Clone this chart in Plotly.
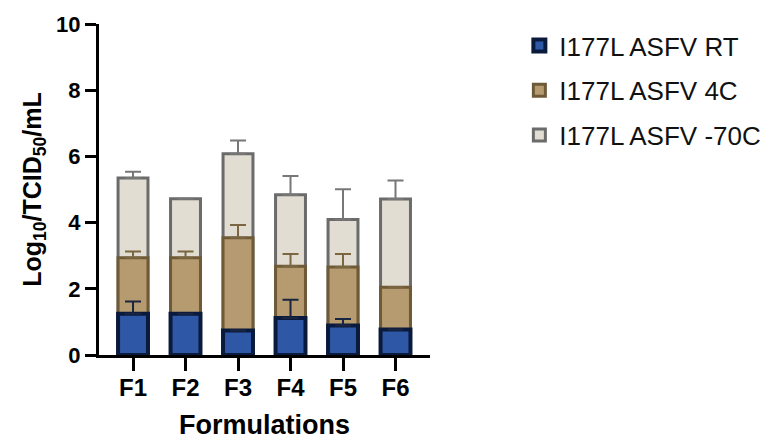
import plotly.graph_objects as go

categories = ["F1", "F2", "F3", "F4", "F5", "F6"]
rt_values = [1.25, 1.25, 0.74, 1.12, 0.89, 0.77]
rt_err = [0.37, 0.0, 0.0, 0.55, 0.20, 0.0]
c4_values = [2.94, 2.94, 3.54, 2.68, 2.66, 2.05]
c4_err = [0.19, 0.19, 0.39, 0.37, 0.39, 0.0]
m70_values = [5.35, 4.72, 6.08, 4.84, 4.09, 4.71]
m70_err = [0.19, 0.0, 0.40, 0.57, 0.92, 0.56]

series = [
    ("I177L ASFV -70C", m70_values, m70_err, "#e2ddd3", "#6b6b6b", 3, "#777777", 3),
    ("I177L ASFV 4C", c4_values, c4_err, "#b59b6f", "#6f5a38", 3, "#7a6640", 2),
    ("I177L ASFV RT", rt_values, rt_err, "#2e58a6", "#0a1a3c", 4, "#1a2540", 1),
]

fig = go.Figure()
for name, vals, err, fill, line, lw, ecol, rank in series:
    fig.add_trace(go.Bar(
        x=categories, y=vals, name=name,
        marker=dict(color=fill, line=dict(color=line, width=lw)),
        width=0.57,
        error_y=dict(type="data", array=err, arrayminus=[0] * len(err), symmetric=False,
                     color=ecol, thickness=2, width=8),
        legendgroup=name, legendrank=rank,
    ))

font_family = "Arial, Liberation Sans, sans-serif"
# page body has an 8px default margin, so the figure is sized to fit the window
fig.update_layout(
    barmode="overlay",
    width=765, height=432,
    margin=dict(l=91, r=343, t=16, b=84.5, autoexpand=False),
    paper_bgcolor="white", plot_bgcolor="white",
    font=dict(family=font_family, color="black"),
    showlegend=True,
    legend=dict(x=1.27, y=1.006, xanchor="left", yanchor="top",
                traceorder="grouped", tracegroupgap=8,
                font=dict(size=26, family=font_family, color="#111111"),
                bgcolor="rgba(0,0,0,0)"),
    xaxis=dict(range=[-0.648, 5.657], showline=True, linecolor="black", linewidth=3,
               ticks="outside", ticklen=13, tickwidth=3, tickcolor="black", automargin=False,
               ticklabelstandoff=-4,
               tickfont=dict(size=24, family=font_family, color="black", weight="bold"),
               title=dict(text="<b>Formulations</b>", font=dict(size=27, family=font_family), standoff=20),
               showgrid=False, zeroline=False),
    yaxis=dict(range=[0, 10], tickvals=[0, 2, 4, 6, 8, 10], showline=True, linecolor="black",
               linewidth=3, ticks="outside", ticklen=11, tickwidth=3, tickcolor="black", automargin=False,
               tickfont=dict(size=22, family=font_family, color="black", weight="bold"),
               title=dict(text="<b>Log<sub>10</sub>/TCID<sub>50</sub>/mL</b>",
                          font=dict(size=25, family=font_family), standoff=8),
               showgrid=False, zeroline=False),
)

fig.write_html("out.html")
